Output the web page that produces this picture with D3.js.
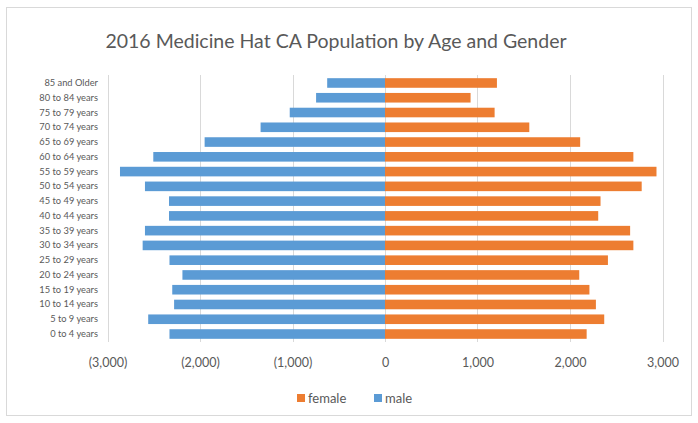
<!DOCTYPE html>
<html>
<head>
<meta charset="utf-8">
<script src="https://cdn.jsdelivr.net/npm/d3@7"></script>
<style>
  html, body { margin: 0; padding: 0; background: #fff; }
  svg { display: block; }
  text { font-family: Lato, "Open Sans", sans-serif; fill: #595959; }
</style>
</head>
<body>
<svg id="chart" width="698" height="423"></svg>
<script>
const categories = ["0 to 4 years","5 to 9 years","10 to 14 years","15 to 19 years","20 to 24 years",
  "25 to 29 years","30 to 34 years","35 to 39 years","40 to 44 years","45 to 49 years",
  "50 to 54 years","55 to 59 years","60 to 64 years","65 to 69 years","70 to 74 years",
  "75 to 79 years","80 to 84 years","85 and Older"];
const male = [2330, 2560, 2280, 2300, 2190, 2330, 2620, 2595, 2335, 2335,
  2595, 2865, 2505, 1950, 1345, 1030, 745, 625];
const female = [2180, 2370, 2280, 2210, 2100, 2410, 2685, 2650, 2305, 2330,
  2775, 2935, 2685, 2110, 1560, 1185, 925, 1210];
const xTicks = [-3000, -2000, -1000, 0, 1000, 2000, 3000];
const seriesNames = ["female", "male"];
const colors = { female: "#ed7d31", male: "#5b9bd5" };
const title = "2016 Medicine Hat CA Population by Age and Gender";

const svg = d3.select("#chart");

// outer frame
svg.append("rect").attr("x", 6.5).attr("y", 7.5).attr("width", 685).attr("height", 408)
  .attr("fill", "#fff").attr("stroke", "#d9d9d9").attr("stroke-width", 1);

const x = d3.scaleLinear().domain([-3000, 3000]).range([107.5, 662.5]);
const y = d3.scaleBand().domain(categories.slice().reverse()).range([75.6, 341.4]).paddingInner(0.35).paddingOuter(0.175);

// gridlines
svg.append("g").selectAll("line").data(xTicks).join("line")
  .attr("x1", d => Math.round(x(d)) + 0.5).attr("x2", d => Math.round(x(d)) + 0.5)
  .attr("y1", 75).attr("y2", 342)
  .attr("stroke", "#d9d9d9").attr("stroke-width", 1);

// bars
const fmt = d3.format(",");
svg.append("g").selectAll("rect").data(categories).join("rect")
  .attr("x", (d, i) => x(-male[i])).attr("width", (d, i) => x(0) - x(-male[i]))
  .attr("y", d => y(d)).attr("height", y.bandwidth())
  .attr("fill", colors.male);
svg.append("g").selectAll("rect").data(categories).join("rect")
  .attr("x", x(0)).attr("width", (d, i) => x(female[i]) - x(0))
  .attr("y", d => y(d)).attr("height", y.bandwidth())
  .attr("fill", colors.female);

// x axis
const xAxis = d3.axisBottom(x).tickValues(xTicks).tickSize(0).tickPadding(0)
  .tickFormat(d => d < 0 ? "(" + fmt(-d) + ")" : fmt(d));
const gx = svg.append("g").attr("transform", "translate(0,366.5)").call(xAxis);
gx.select(".domain").remove();
gx.selectAll("text").attr("font-size", 12.5).attr("dy", 0)
  .style("font-family", "Lato, sans-serif").attr("fill", "#595959");

// y axis
const yAxis = d3.axisLeft(y).tickSize(0).tickPadding(0);
const gy = svg.append("g").attr("transform", "translate(98,0)").call(yAxis);
gy.select(".domain").remove();
gy.selectAll("text").attr("font-size", 9.3)
  .style("font-family", "Lato, sans-serif").attr("fill", "#595959");

// title
svg.append("text").attr("x", 336).attr("y", 48).attr("text-anchor", "middle")
  .attr("font-size", 19.5).text(title);

// legend
const legend = svg.append("g");
const legendItems = [{ name: "female", x: 297 }, { name: "male", x: 374 }];
legendItems.forEach(it => {
  legend.append("rect").attr("x", it.x).attr("y", 394).attr("width", 8).attr("height", 8)
    .attr("fill", colors[it.name]);
  legend.append("text").attr("x", it.x + 11).attr("y", 402.5).attr("font-size", 13).text(it.name);
});
</script>
</body>
</html>
